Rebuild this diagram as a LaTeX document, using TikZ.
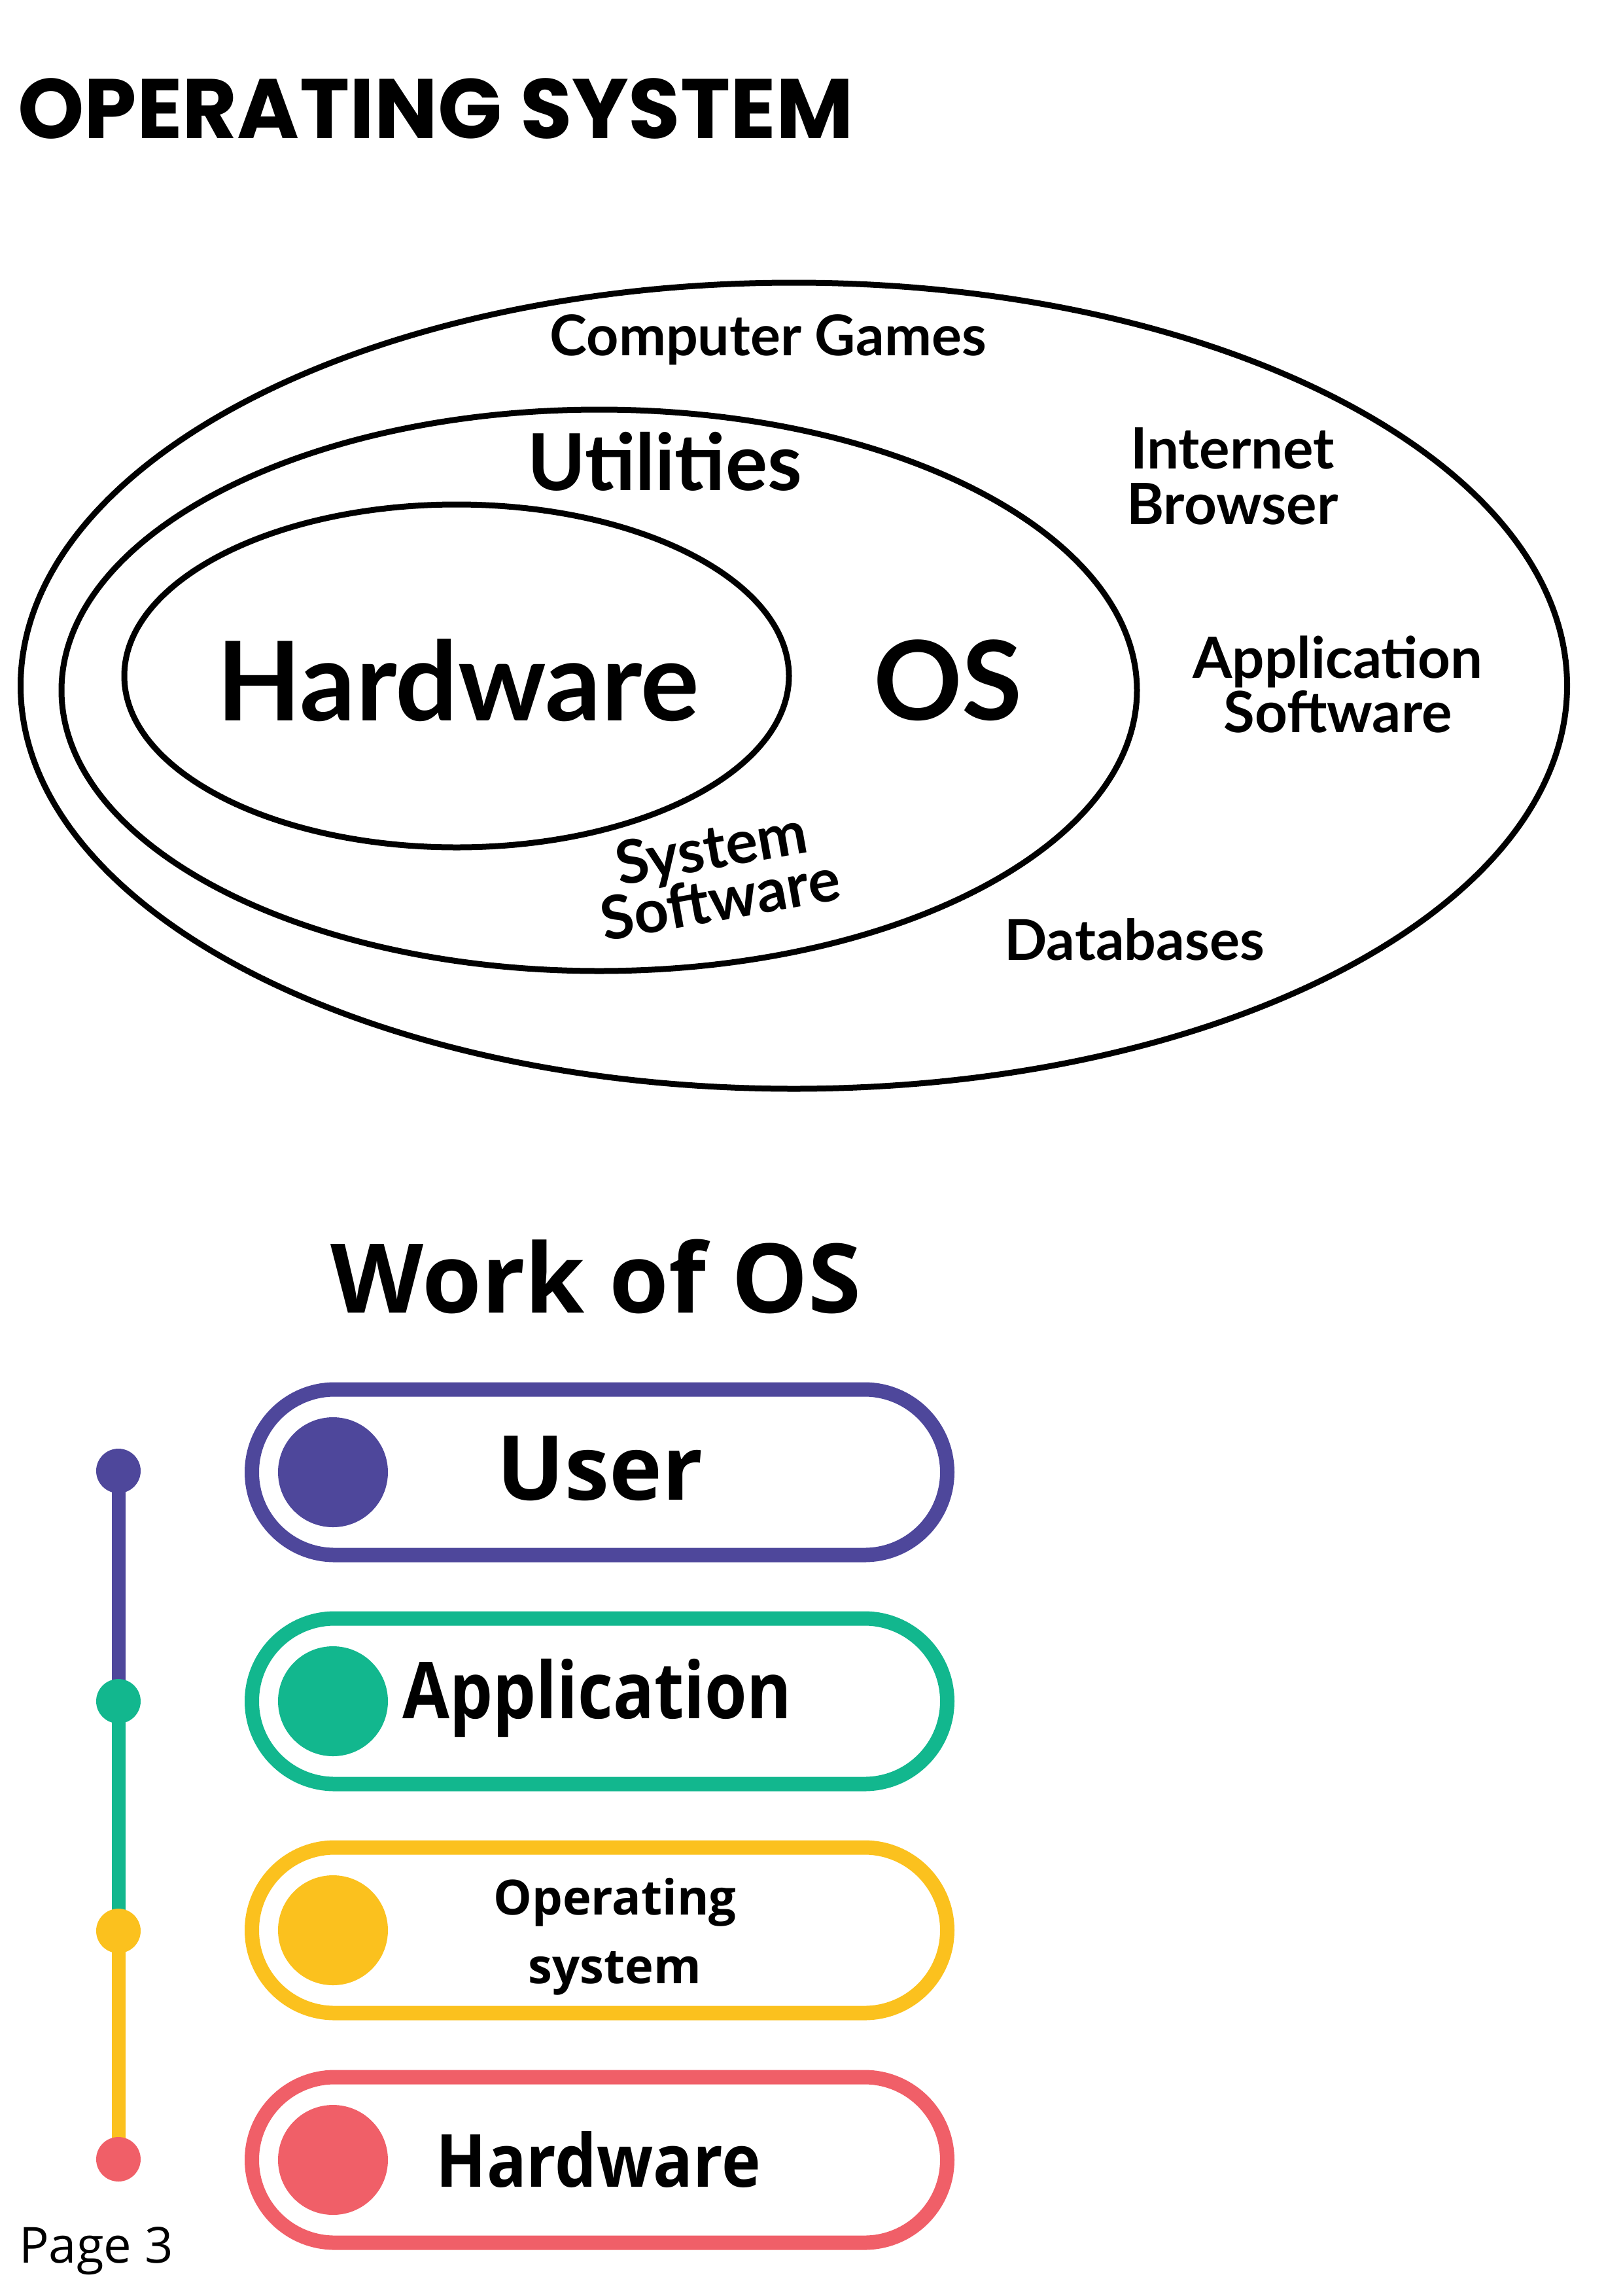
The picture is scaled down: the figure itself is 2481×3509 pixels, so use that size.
\documentclass[tikz,border=0pt]{standalone}
\usepackage{fontspec}
\usetikzlibrary{shapes.misc}
\newfontfamily\poppins{Poppins}
\newfontfamily\lato{Lato}
\newfontfamily\opens{Open Sans}
\newfontfamily\opensa{Open Sans}[FakeStretch=0.87]
\newfontfamily\opensb{Open Sans}[FakeStretch=0.9]
\definecolor{cpurple}{RGB}{78,71,155}
\definecolor{cgreen}{RGB}{18,183,142}
\definecolor{cyellow}{RGB}{251,193,30}
\definecolor{cred}{RGB}{240,95,104}
\newcommand{\fs}[1]{\fontsize{#1}{#1}\selectfont}
\tikzset{
  lbl/.style={inner sep=0pt, align=center, font=\lato\bfseries},
  pill/.style={draw=#1, line width=22pt, rounded rectangle, minimum width=1063pt, minimum height=253pt, inner sep=0pt},
  marker/.style={circle, fill=#1, minimum size=168pt, inner sep=0pt},
  dot/.style={circle, fill=#1, minimum size=68pt, inner sep=0pt},
  tline/.style={draw=#1, line width=21pt},
  ptxt/.style={inner sep=0pt, align=center, font=\opens\bfseries}
}
\begin{document}
\begin{tikzpicture}[x=1pt,y=-1pt]
\useasboundingbox (0,0) rectangle (2481,3509);
% title
\node[inner sep=0pt, anchor=west, font=\poppins\bfseries\fs{129}] (title) at (27,166) {OPERATING SYSTEM};
% ellipses
\draw[line width=9pt] (1213.5,1048) ellipse [x radius=1182, y radius=616];
\draw[line width=9pt] (916,1055) ellipse [x radius=822, y radius=429];
\draw[line width=9pt] (698,1033) ellipse [x radius=508, y radius=262];
% ellipse labels
\node[lbl, font=\lato\bfseries\fs{86}] (games) at (1174,519) {Computer Games};
\node[lbl, font=\lato\bfseries\fs{120}] (util) at (1016,705) {Utilities};
\node[lbl, font=\lato\bfseries\fs{168}] (hw) at (700,1040) {Hardware};
\node[lbl, font=\lato\bfseries\fs{168}] (os) at (1449,1040) {OS};
\node[lbl, font=\lato\bfseries\fs{87}] (browser) at (1884,728) {Internet\\[-2pt]Browser};
\node[lbl, font=\lato\bfseries\fs{87}] (appsw) at (2045,1046) {Application\\[-4pt]Software};
\node[lbl, font=\lato\bfseries\fs{92}, rotate=10] (syssw) at (1094,1334) {System\\[-12pt]Software};
\node[lbl, font=\lato\bfseries\fs{86}] (db) at (1734,1436) {Databases};
% work of OS
\node[ptxt, font=\opens\bfseries\fs{147}] (work) at (911,1951) {Work of OS};
% pills
\node[pill=cpurple] (p1) at (916.5,2250) {};
\node[pill=cgreen] (p2) at (916.5,2600) {};
\node[pill=cyellow] (p3) at (916.5,2950) {};
\node[pill=cred] (p4) at (916.5,3301) {};
\node[marker=cpurple] (m1) at (509,2250) {};
\node[marker=cgreen] (m2) at (509,2600) {};
\node[marker=cyellow] (m3) at (509,2950) {};
\node[marker=cred] (m4) at (509,3301) {};
\node[ptxt, font=\opens\bfseries\fs{137}] (t1) at (917,2244) {User};
\node[ptxt, font=\opensa\bfseries\fs{120}] (t2) at (913,2595) {Application};
\node[ptxt, font=\opens\bfseries\fs{74}] (t3) at (940,2960) {Operating\\[31pt]system};
\node[ptxt, font=\opensb\bfseries\fs{112}] (t4) at (915,3300) {Hardware};
% timeline
\coordinate (c1) at (181,2248);
\coordinate (c2) at (181,2600);
\coordinate (c3) at (181,2951);
\coordinate (c4) at (181,3300);
\draw[tline=cpurple] (c1) -- (c2);
\draw[tline=cgreen] (c2) -- (c3);
\draw[tline=cyellow] (c3) -- (c4);
\node[dot=cpurple] (d1) at (c1) {};
\node[dot=cgreen] (d2) at (c2) {};
\node[dot=cyellow] (d3) at (c3) {};
\node[dot=cred] (d4) at (c4) {};
% page
\node[inner sep=0pt, anchor=west, font=\opens\fs{76}] (page) at (29,3440) {Page 3};
\end{tikzpicture}
\end{document}
